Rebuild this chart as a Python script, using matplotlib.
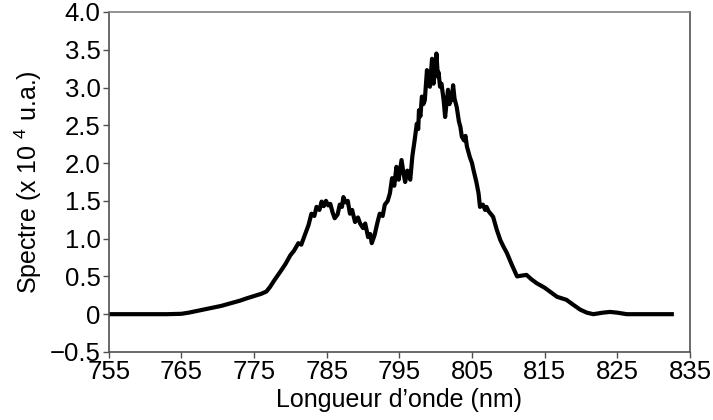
import matplotlib.pyplot as plt

plt.rcParams['font.family'] = ['Liberation Sans', 'DejaVu Sans']
plt.rcParams['mathtext.fontset'] = 'custom'
plt.rcParams['mathtext.rm'] = 'Liberation Sans'
plt.rcParams['axes.unicode_minus'] = True

# spectrum, wavelength in nm, intensity in units of 1e4
wavelength = [
    755.0, 757.0, 760.0, 763.0, 765.0, 766.0, 767.5, 769.0, 770.5, 772.0,
    773.1, 774.0, 775.0, 776.0, 776.7, 777.2, 777.8, 778.6, 779.3, 780.0,
    780.5, 781.1, 781.5, 782.0, 782.5, 782.9, 783.3, 783.6, 784.0, 784.3,
    784.6, 784.9, 785.2, 785.5, 785.8, 786.1, 786.5, 786.8, 787.1, 787.3,
    787.6, 787.9, 788.2, 788.5, 788.9, 789.3, 789.6, 790.0, 790.3, 790.7,
    791.0, 791.2, 791.6, 792.0, 792.3, 792.7, 793.0, 793.4, 793.7, 794.0,
    794.3, 794.6, 794.9, 795.3, 795.6, 795.8, 796.1, 796.5, 796.8, 797.1,
    797.4, 797.6, 797.7, 797.9, 798.1, 798.3, 798.5, 798.7, 798.8, 799.0,
    799.2, 799.4, 799.5, 799.7, 799.9, 800.0, 800.1, 800.3, 800.4, 800.6,
    800.8, 801.1, 801.3, 801.5, 801.7, 801.9, 802.1, 802.2, 802.4, 802.6,
    802.9, 803.2, 803.4, 803.6, 803.9, 804.1, 804.3, 804.7, 805.0, 805.2,
    805.6, 805.9, 806.1, 806.5, 806.8, 807.0, 807.3, 807.9, 808.4, 808.9,
    809.3, 809.8, 810.5, 811.2, 811.8, 812.5, 813.2, 813.9, 815.0, 816.0,
    816.7, 818.0, 819.0, 819.9, 820.8, 821.7, 823.0, 824.0, 825.0, 826.3,
    828.0, 830.0, 832.5,
]
spectrum = [
    0.00, 0.00, 0.00, 0.00, 0.005, 0.02, 0.05, 0.08, 0.11, 0.15,
    0.18, 0.21, 0.24, 0.27, 0.30, 0.36, 0.45, 0.56, 0.66, 0.78,
    0.84, 0.94, 0.92, 1.05, 1.18, 1.33, 1.30, 1.42, 1.38, 1.49,
    1.43, 1.50, 1.44, 1.46, 1.35, 1.27, 1.32, 1.45, 1.42, 1.55,
    1.48, 1.50, 1.33, 1.38, 1.22, 1.28, 1.20, 1.14, 1.20, 1.02,
    1.06, 0.94, 1.05, 1.22, 1.33, 1.30, 1.45, 1.50, 1.60, 1.80,
    1.70, 1.95, 1.78, 2.04, 1.85, 1.75, 1.90, 1.78, 2.10, 2.30,
    2.52, 2.45, 2.70, 2.62, 2.88, 2.78, 2.83, 3.10, 3.23, 3.05,
    3.01, 3.25, 3.38, 3.05, 3.20, 3.30, 3.45, 3.15, 3.20, 3.01,
    3.05, 2.83, 2.61, 2.80, 2.97, 2.78, 2.92, 2.83, 3.03, 2.85,
    2.74, 2.55, 2.48, 2.35, 2.30, 2.36, 2.22, 2.08, 2.00, 1.91,
    1.75, 1.60, 1.42, 1.45, 1.38, 1.42, 1.36, 1.29, 1.12, 0.98,
    0.90, 0.81, 0.65, 0.50, 0.51, 0.52, 0.46, 0.41, 0.35, 0.28,
    0.23, 0.19, 0.12, 0.06, 0.02, 0.00, 0.02, 0.03, 0.02, 0.00,
    0.00, 0.00, 0.00,
]

x_ticks = [755, 765, 775, 785, 795, 805, 815, 825, 835]
y_ticks = [-0.5, 0, 0.5, 1.0, 1.5, 2.0, 2.5, 3.0, 3.5, 4.0]
y_labels = ['\u22120.5', '0', '0.5', '1.0', '1.5', '2.0', '2.5', '3.0', '3.5', '4.0']

fig = plt.figure(figsize=(7.13, 4.2), dpi=100)
ax = fig.add_axes([0.1525, 0.162, 0.8152, 0.8095])

ax.plot(wavelength, spectrum, color='black', lw=3.0, solid_joinstyle='round')

ax.set_xlim(755, 835)
ax.set_ylim(-0.5, 4.0)
ax.set_xticks(x_ticks)
ax.set_yticks(y_ticks)
ax.set_yticklabels(y_labels)
ax.tick_params(direction='out', length=4, width=1, color='#505050',
               labelsize=18.5, pad=2, top=False, right=False)

for side in ['left', 'bottom', 'right']:
    ax.spines[side].set_color('#505050')
ax.spines['top'].set_color('#808080')
for s in ax.spines.values():
    s.set_linewidth(1.2)

ax.set_xlabel('Longueur d\u2019onde (nm)', fontsize=18, labelpad=3)
ax.set_ylabel('Spectre (x 10 $^{4}$ u.a.)', fontsize=18, labelpad=4)

fig.savefig('out.png', dpi=100)
